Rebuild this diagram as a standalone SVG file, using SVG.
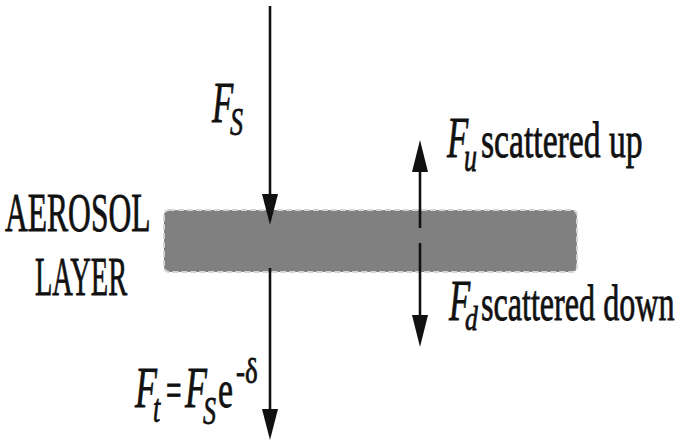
<svg xmlns="http://www.w3.org/2000/svg" width="681" height="442" viewBox="0 0 681 442">
<style>
.t{font-family:"Liberation Serif","DejaVu Serif",serif;fill:#111;stroke:#111;stroke-width:0.8;}
.it{font-style:italic;}
.ln{stroke:#111;stroke-width:2.6;fill:none;}
.hd{fill:#111;}
</style>
<g id="layer">
<rect x="164" y="210" width="413" height="62" rx="5" fill="#808080" stroke="#d4d4d4" stroke-width="2" stroke-dasharray="6 3"/>
</g>
<g id="connectors">
<line class="ln" x1="270" y1="6" x2="270" y2="194"/>
<path class="hd" d="M262,194 L278,194 L270,225 Z"/>
<line class="ln" x1="270" y1="268" x2="270" y2="409"/>
<path class="hd" d="M262,409 L278,409 L270,440 Z"/>
<line class="ln" x1="420" y1="170" x2="420" y2="228"/>
<path class="hd" d="M412,172 L428,172 L420,140 Z"/>
<line class="ln" x1="420" y1="243" x2="420" y2="316"/>
<path class="hd" d="M412,315 L428,315 L420,347 Z"/>
</g>
<g id="label-aerosol">
<text class="t" font-size="55" transform="translate(5,231) scale(0.574,1)">AEROSOL</text>
<text class="t" font-size="55" transform="translate(35,295) scale(0.517,1)">LAYER</text>
</g>
<g id="label-fs">
<text class="t it" font-size="56" transform="translate(212,122) scale(0.62,1)">F</text>
<text class="t it" font-size="40" transform="translate(230,135) scale(0.65,1)">S</text>
</g>
<g id="label-fu">
<text class="t it" font-size="56" transform="translate(447,157) scale(0.62,1)">F</text>
<text class="t it" font-size="42" transform="translate(464,171) scale(0.62,1)">u</text>
<text class="t" font-size="51" transform="translate(481,157) scale(0.66,1)">scattered up</text>
</g>
<g id="label-fd">
<text class="t it" font-size="56" transform="translate(449,320) scale(0.62,1)">F</text>
<text class="t it" font-size="34" transform="translate(465,330) scale(0.75,1)">d</text>
<text class="t" font-size="51" transform="translate(481,320) scale(0.63,1)">scattered down</text>
</g>
<g id="label-ft">
<text class="t it" font-size="58" transform="translate(135,407) scale(0.62,1)">F</text>
<text class="t it" font-size="40" transform="translate(153,422) scale(0.65,1)">t</text>
<text class="t" font-size="50" transform="translate(166,407) scale(0.55,1)">=</text>
<text class="t it" font-size="58" transform="translate(185,407) scale(0.62,1)">F</text>
<text class="t it" font-size="40" transform="translate(203,424) scale(0.65,1)">S</text>
<text class="t" font-size="52" transform="translate(218,407) scale(0.65,1)">e</text>
<text class="t" font-size="36" transform="translate(236,383) scale(0.75,1)">-δ</text>
</g>
</svg>
